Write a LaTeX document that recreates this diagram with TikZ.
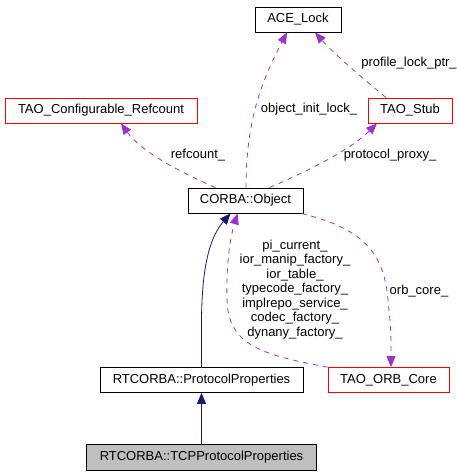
\documentclass[tikz,border=0pt]{standalone}
\usepackage{fontspec}
\setmainfont{Liberation Sans}
\usetikzlibrary{arrows.meta,calc}
\definecolor{edgepurple}{HTML}{9A32CD}
\definecolor{edgenavy}{HTML}{191970}
\definecolor{boxred}{HTML}{FF0000}
\definecolor{boxgray}{HTML}{BFBFBF}
\tikzset{
  cls/.style={draw=black, line width=0.8pt, rectangle, inner sep=0pt, minimum height=25pt,
    font=\fontsize{13}{15}\selectfont},
  redcls/.style={cls, draw=boxred},
  usage/.style={draw=edgepurple, line width=0.8pt, dash pattern=on 5pt off 5pt,
    -{Triangle[length=11pt,width=9pt,fill=edgepurple]}},
  inherit/.style={draw=edgenavy, line width=0.8pt,
    -{Triangle[length=11pt,width=9pt,fill=edgenavy]}},
  elabel/.style={font=\fontsize{13}{14.5}\selectfont, inner sep=0pt, align=center},
}
\begin{document}
\begin{tikzpicture}[x=1pt,y=-1pt]
\useasboundingbox (0,0) rectangle (457,475);
% nodes
\node[cls, minimum width=86pt] (ace) at (298,19.5) {ACE\_Lock};
\node[redcls, minimum width=192pt] (refc) at (101,110.5) {TAO\_Configurable\_Refcount};
\node[redcls, minimum width=84pt] (stub) at (410,110.5) {TAO\_Stub};
\node[cls, minimum width=115pt] (obj) at (245.5,200.5) {CORBA::Object};
\node[cls, minimum width=203pt] (pp) at (201.5,380) {RTCORBA::ProtocolProperties};
\node[redcls, minimum width=121pt] (orb) at (388.5,380) {TAO\_ORB\_Core};
\node[cls, fill=boxgray, minimum width=230pt, minimum height=26pt] (tcp) at (201.5,457) {RTCORBA::TCPProtocolProperties};
% usage edges
\draw[usage] ($(obj.north)+(-30,0)$) .. controls (175,170) and (140,150) .. ($(refc.south)+(20,0)$);
\draw[usage] ($(obj.north)+(0.5,0)$) .. controls (246,120) and (262,80) .. ($(ace.south)+(-11,0)$);
\draw[usage] ($(obj.north)+(24,0)$) .. controls (310,170) and (350,150) .. ($(stub.south)+(-33,0)$);
\draw[usage] ($(stub.north)+(-24,0)$) .. controls (365,80) and (335,55) .. ($(ace.south)+(17,0)$);
\draw[usage] ($(obj.south east)+(-2,0)$) .. controls (360,228) and (384,250) .. (388,300)
  .. controls (391,330) .. ($(orb.north)+(2.5,0)$);
\draw[usage] (orb.north west) .. controls (262,355) and (228,345) .. (227,300)
  .. controls (226,260) and (231,235) .. ($(obj.south)+(-8,0)$);
% inheritance edges
\draw[inherit] (pp.north) -- (201.5,320) .. controls (202,262) and (211,236) .. ($(obj.south)+(-15,0)$);
\draw[inherit] (tcp.north) -- (pp.south);
% labels
\node[elabel] (l1) at (198,155) {refcount\_};
\node[elabel] (l2) at (309,109) {object\_init\_lock\_};
\node[elabel] (l3) at (409,63) {profile\_lock\_ptr\_};
\node[elabel] (l4) at (390,155) {protocol\_proxy\_};
\node[elabel] (l5) at (419,291) {orb\_core\_};
\node[elabel] (l6) at (295,289.5) {pi\_current\_\\ior\_manip\_factory\_\\ior\_table\_\\typecode\_factory\_\\implrepo\_service\_\\codec\_factory\_\\dynany\_factory\_};
\end{tikzpicture}
\end{document}
